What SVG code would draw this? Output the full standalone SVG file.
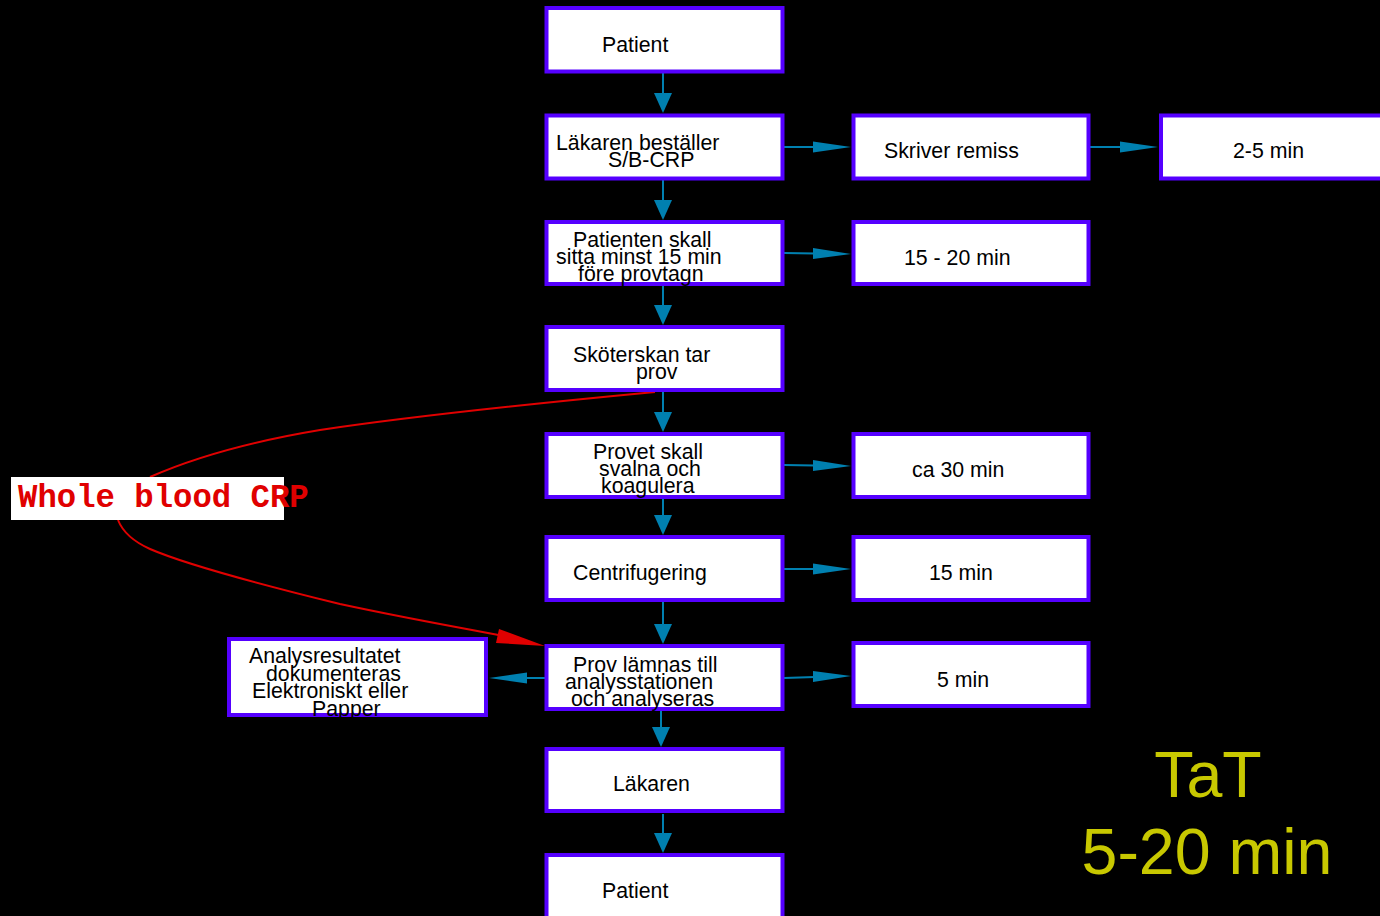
<svg xmlns="http://www.w3.org/2000/svg" width="1380" height="916" viewBox="0 0 1380 916">
<style>
.box{fill:#fff;stroke:#5500FF;stroke-width:4}
.t{font-family:"Liberation Sans",Arial,sans-serif;font-size:21.3px;fill:#000}
.c{stroke:#0080B0;stroke-width:2;fill:none}
.h{fill:#0080B0}
.big{font-family:"Liberation Sans",Arial,sans-serif;font-size:64.5px;fill:#C8C800;text-anchor:middle}
</style>
<rect width="1380" height="916" fill="#000"/>
<g id="connectors">
<line class="c" x1="663" y1="73" x2="663" y2="95"/><polygon class="h" points="654,93 672,93 663,113"/>
<line class="c" x1="663" y1="180" x2="663" y2="202"/><polygon class="h" points="654,200 672,200 663,220"/>
<line class="c" x1="663" y1="286" x2="663" y2="307"/><polygon class="h" points="654,305 672,305 663,325"/>
<line class="c" x1="663" y1="392" x2="663" y2="414"/><polygon class="h" points="654,412 672,412 663,432"/>
<line class="c" x1="663" y1="498" x2="663" y2="517"/><polygon class="h" points="654,515 672,515 663,535"/>
<line class="c" x1="663" y1="602" x2="663" y2="626"/><polygon class="h" points="654,624 672,624 663,644"/>
<line class="c" x1="661" y1="711" x2="661" y2="729"/><polygon class="h" points="652,727 670,727 661,747"/>
<line class="c" x1="663" y1="814" x2="663" y2="835"/><polygon class="h" points="654,833 672,833 663,853"/>
<line class="c" x1="784" y1="147" x2="815" y2="147"/><polygon class="h" points="813,141.5 813,152.5 851,147"/>
<line class="c" x1="1090" y1="147" x2="1122" y2="147"/><polygon class="h" points="1120,141.5 1120,152.5 1158,147"/>
<line class="c" x1="784" y1="253" x2="815" y2="253.5"/><polygon class="h" points="813,248 813,259 851,254"/>
<line class="c" x1="784" y1="465" x2="815" y2="465.5"/><polygon class="h" points="813,460 813,471 851,466"/>
<line class="c" x1="784" y1="569" x2="815" y2="569"/><polygon class="h" points="813,563.5 813,574.5 851,569"/>
<line class="c" x1="784" y1="678" x2="815" y2="677"/><polygon class="h" points="813,671 813,682 851,676"/>
<line class="c" x1="545" y1="678" x2="525" y2="678"/><polygon class="h" points="527,672.5 527,683.5 489,678"/>
<path d="M655,392 C560,401 420,415 320,430 C260,440 200,455 150,477" fill="none" stroke="#E00000" stroke-width="2"/>
<path d="M118,520 C122,530 130,540 150,549 C180,562 230,577 340,604 C400,617 450,626 510,637" fill="none" stroke="#E00000" stroke-width="2"/>
<polygon points="499,629 496,643 545,646" fill="#E00000"/>
</g>
<g id="n1"><rect class="box" x="546.5" y="8" width="236" height="63.5"/><text class="t" x="602" y="52">Patient</text></g>
<g id="n2"><rect class="box" x="546.5" y="115.5" width="236" height="63"/><text class="t" x="556" y="150">Läkaren beställer</text><text class="t" x="608" y="167">S/B-CRP</text></g>
<g id="n3"><rect class="box" x="546.5" y="222" width="236" height="62"/><text class="t" x="573" y="247">Patienten skall</text><text class="t" x="556" y="264">sitta minst 15 min</text><text class="t" x="578" y="281">före provtagn</text></g>
<g id="n4"><rect class="box" x="546.5" y="327" width="236" height="63"/><text class="t" x="573" y="362">Sköterskan tar</text><text class="t" x="636" y="379">prov</text></g>
<g id="n5"><rect class="box" x="546.5" y="434" width="236" height="63"/><text class="t" x="593" y="459">Provet skall</text><text class="t" x="599" y="476">svalna och</text><text class="t" x="601" y="493">koagulera</text></g>
<g id="n6"><rect class="box" x="546.5" y="537" width="236" height="63"/><text class="t" x="573" y="580">Centrifugering</text></g>
<g id="n7"><rect class="box" x="546.5" y="646" width="236" height="63"/><text class="t" x="573" y="672">Prov lämnas till</text><text class="t" x="565" y="689">analysstationen</text><text class="t" x="571" y="706">och analyseras</text></g>
<g id="n8"><rect class="box" x="546.5" y="749" width="236" height="62"/><text class="t" x="613" y="791">Läkaren</text></g>
<g id="n9"><rect class="box" x="546.5" y="855" width="236" height="70"/><text class="t" x="602" y="898">Patient</text></g>
<g id="r1"><rect class="box" x="853.5" y="115.5" width="235" height="63"/><text class="t" x="884" y="158">Skriver remiss</text></g>
<g id="r1b"><rect class="box" x="1161" y="115.5" width="240" height="63"/><text class="t" x="1233" y="158">2-5 min</text></g>
<g id="r2"><rect class="box" x="853.5" y="222" width="235" height="62"/><text class="t" x="904" y="265">15 - 20 min</text></g>
<g id="r3"><rect class="box" x="853.5" y="434" width="235" height="63"/><text class="t" x="912" y="477">ca 30 min</text></g>
<g id="r4"><rect class="box" x="853.5" y="537" width="235" height="63"/><text class="t" x="929" y="580">15 min</text></g>
<g id="r5"><rect class="box" x="853.5" y="643" width="235" height="63"/><text class="t" x="937" y="687">5 min</text></g>
<g id="l1"><rect class="box" x="229" y="639" width="257" height="76"/><text class="t" x="249" y="663">Analysresultatet</text><text class="t" x="266" y="681">dokumenteras</text><text class="t" x="252" y="698">Elektroniskt eller</text><text class="t" x="312" y="716">Papper</text></g>
<g id="label"><rect x="11" y="477" width="273" height="43" fill="#fff"/><text x="18" y="507" font-family="'Liberation Mono','Courier New',monospace" font-size="32.3" font-weight="bold" fill="#E00000">Whole blood CRP</text></g>
<g id="tat"><text class="big" x="1208" y="797">TaT</text><text class="big" x="1207" y="874">5-20 min</text></g>
</svg>
